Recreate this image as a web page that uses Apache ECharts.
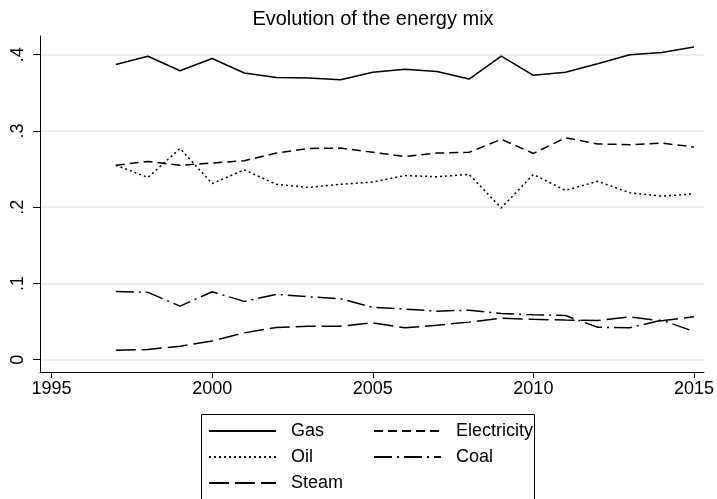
<!DOCTYPE html>
<html>
<head>
<meta charset="utf-8">
<title>Evolution of the energy mix</title>
<script src="https://cdn.jsdelivr.net/npm/echarts@6/dist/echarts.min.js"></script>
<style>
  html, body { margin: 0; padding: 0; background: #fff; }
  #chart { width: 717px; height: 499px; }
</style>
</head>
<body>
<div id="chart"></div>
<script>
// Energy mix shares by year
var years = [1997, 1998, 1999, 2000, 2001, 2002, 2003, 2004, 2005, 2006,
             2007, 2008, 2009, 2010, 2011, 2012, 2013, 2014, 2015];
var gas = [0.387, 0.398, 0.379, 0.395, 0.376, 0.370, 0.3695, 0.367, 0.377, 0.381,
           0.378, 0.368, 0.398, 0.373, 0.377, 0.388, 0.400, 0.403, 0.410];
var electricity = [0.255, 0.260, 0.255, 0.258, 0.261, 0.271, 0.277, 0.2775, 0.272, 0.2665,
                   0.271, 0.272, 0.289, 0.2705, 0.291, 0.283, 0.282, 0.284, 0.279];
var oil = [0.255, 0.239, 0.277, 0.231, 0.249, 0.230, 0.226, 0.230, 0.233, 0.2415,
           0.240, 0.243, 0.199, 0.243, 0.222, 0.234, 0.219, 0.2145, 0.2175];
var coal = [0.0896, 0.0883, 0.0703, 0.0891, 0.0765, 0.0857, 0.0825, 0.080, 0.0686, 0.0664,
            0.0637, 0.065, 0.0605, 0.059, 0.058, 0.0425, 0.042, 0.052, 0.037];
var steam = [0.0125, 0.0134, 0.0177, 0.0247, 0.0352, 0.0423, 0.044, 0.044, 0.0484, 0.0418,
             0.0453, 0.0493, 0.0545, 0.053, 0.052, 0.0515, 0.056, 0.051, 0.0563];

var xTicks = [1995, 2000, 2005, 2010, 2015];
var yTicks = [0, 0.1, 0.2, 0.3, 0.4];

var FONT = '"Liberation Sans", Arial, sans-serif';
var INK = '#000';

function pairs(values) {
  return years.map(function (y, i) { return [y, values[i]]; });
}

function lineSeries(name, values, dash) {
  return {
    name: name,
    type: 'line',
    data: pairs(values),
    symbol: 'none',
    showSymbol: false,
    smooth: false,
    lineStyle: { color: INK, width: 1.5, type: dash, cap: 'butt' },
    itemStyle: { color: INK, opacity: 0 },
    emphasis: { disabled: true }
  };
}

// Legend keys show the line pattern only (no marker)
var legendCommon = {
  orient: 'vertical',
  top: 422,
  itemWidth: 67,
  itemHeight: 14,
  itemGap: 8,
  padding: 0,
  selectedMode: false,
  itemStyle: { opacity: 0 },
  textStyle: { fontFamily: FONT, fontSize: 18, color: INK, padding: [0, 0, 0, 10] }
};

var chart = echarts.init(document.getElementById('chart'), null, { renderer: 'canvas' });
chart.setOption({
  animation: false,
  backgroundColor: '#fff',
  title: {
    text: 'Evolution of the energy mix',
    left: 368,
    textAlign: 'center',
    top: 4,
    textStyle: { fontFamily: FONT, fontSize: 20, fontWeight: 'normal', color: INK }
  },
  grid: { left: 40, right: 12, top: 36, bottom: 127, containLabel: false },
  xAxis: {
    type: 'value',
    min: 1994.64,
    max: 2015.31,
    axisLine: { onZero: false, lineStyle: { color: INK, width: 1 } },
    axisTick: { customValues: xTicks, length: 6, lineStyle: { color: INK } },
    axisLabel: {
      customValues: xTicks,
      margin: 8,
      fontFamily: FONT, fontSize: 18, color: INK,
      formatter: function (v) { return String(v); }
    },
    splitLine: { show: false }
  },
  yAxis: {
    type: 'value',
    min: -0.0161,
    max: 0.4245,
    axisLine: { show: true, onZero: false, lineStyle: { color: INK, width: 1 } },
    axisTick: { show: true, customValues: yTicks, length: 7, lineStyle: { color: INK } },
    axisLabel: {
      customValues: yTicks,
      rotate: 90,
      margin: 13,
      fontFamily: FONT, fontSize: 18, color: INK,
      formatter: function (v) { return v === 0 ? '0' : v.toFixed(1).replace(/^0\./, '.'); }
    },
    splitLine: { show: true, lineStyle: { color: '#e6e6e6', width: 1.5 } }
  },
  legend: [
    Object.assign({}, legendCommon, { left: 208, data: ['Gas', 'Oil', 'Steam'] }),
    Object.assign({}, legendCommon, { left: 373, data: ['Electricity', 'Coal'] })
  ],
  graphic: [{
    type: 'rect',
    silent: true,
    shape: { x: 201.5, y: 414.5, width: 333, height: 100 },
    style: { fill: 'none', stroke: INK, lineWidth: 1 }
  }],
  series: [
    lineSeries('Gas', gas, 'solid'),
    lineSeries('Electricity', electricity, [9, 5]),
    lineSeries('Oil', oil, [2, 3]),
    lineSeries('Coal', coal, [18, 5, 2, 5]),
    lineSeries('Steam', steam, [20, 6])
  ]
});
</script>
</body>
</html>
